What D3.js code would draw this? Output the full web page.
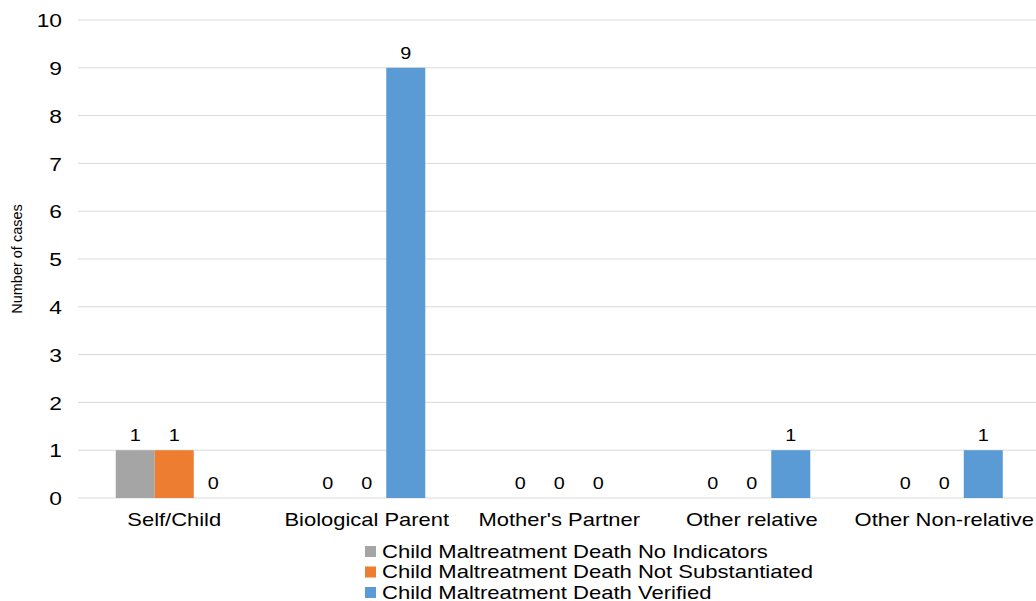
<!DOCTYPE html>
<html><head><meta charset="utf-8">
<script src="https://cdn.jsdelivr.net/npm/d3@7"></script>
<style>body{margin:0;background:#fff}svg{display:block}text{font-family:"Liberation Sans",Arial,sans-serif}</style>
</head><body>
<svg id="c" width="1036" height="601"></svg>
<script>
const categories = ["Self/Child","Biological Parent","Mother's Partner","Other relative","Other Non-relative"];
const seriesNames = ["Child Maltreatment Death No Indicators","Child Maltreatment Death Not Substantiated","Child Maltreatment Death Verified"];
const noIndicators = [1,0,0,0,0];
const notSubstantiated = [1,0,0,0,0];
const verified = [0,9,0,1,1];
const yTicks = [0,1,2,3,4,5,6,7,8,9,10];
const colors = ["#a5a5a5","#ed7d31","#5b9bd5"];
const series = [noIndicators, notSubstantiated, verified];

const svg = d3.select("#c");
const x0 = d3.scaleBand().domain(categories).range([78, 1040.5]).paddingInner(0.392).paddingOuter(0.196);
const x1 = d3.scaleBand().domain(d3.range(3)).range([0, x0.bandwidth()]);
const y = d3.scaleLinear().domain([0,10]).range([498, 20]);

// stretch text horizontally (reference glyphs are wide)
function stretch(sel, sx){
  sel.each(function(){
    const t = d3.select(this);
    const x = +t.attr("x")||0, yy = +t.attr("y")||0;
    t.attr("x",0).attr("y",0).attr("transform",`translate(${x},${yy}) scale(${sx},1)`);
  });
}

// gridlines
svg.append("g").selectAll("line").data(yTicks).join("line")
  .attr("x1",78).attr("x2",1036).attr("y1",d=>y(d)).attr("y2",d=>y(d))
  .attr("stroke","#d9d9d9").attr("stroke-width",1);

// y axis labels
const ya = svg.append("g").attr("transform","translate(78,0)")
  .call(d3.axisLeft(y).tickValues(yTicks).tickSize(0).tickPadding(16));
ya.select(".domain").remove();
ya.selectAll("text").attr("font-size",19).attr("fill","#000").attr("font-family","Liberation Sans, Arial, sans-serif").attr("dy","0.35em");
stretch(ya.selectAll("text"),1.2);

// bars
const groups = svg.append("g").selectAll("g").data(categories).join("g")
  .attr("transform",d=>`translate(${x0(d)},0)`);
groups.selectAll("rect").data((d,i)=>series.map((s,k)=>({k,v:s[i]}))).join("rect")
  .attr("x",d=>x1(d.k)).attr("width",x1.bandwidth())
  .attr("y",d=>y(d.v)).attr("height",d=>y(0)-y(d.v))
  .attr("fill",d=>colors[d.k]);
const vl = groups.selectAll("text").data((d,i)=>series.map((s,k)=>({k,v:s[i]}))).join("text")
  .attr("x",d=>x1(d.k)+x1.bandwidth()/2).attr("y",d=>y(d.v)-9)
  .attr("text-anchor","middle").attr("font-size",16.5).attr("fill","#000")
  .text(d=>d.v);
stretch(vl,1.2);

// x axis labels
const xa = svg.append("g").attr("transform","translate(0,498)")
  .call(d3.axisBottom(x0).tickSize(0).tickPadding(15));
xa.select(".domain").remove();
xa.selectAll("text").attr("font-size",18).attr("fill","#000").attr("font-family","Liberation Sans, Arial, sans-serif").attr("dy","0.71em");
xa.selectAll("text").each(function(){
  const t=d3.select(this); const yy=+t.attr("y");
  t.attr("y",0).attr("dy",null).attr("transform",`translate(0,${yy+13}) scale(1.22,1)`);
});

// y title
svg.append("text").attr("transform","translate(22,259) rotate(-90)")
  .attr("text-anchor","middle").attr("font-size",14.5).attr("fill","#000")
  .text("Number of cases");

// legend
const lg = svg.append("g").selectAll("g").data(seriesNames).join("g")
  .attr("transform",(d,i)=>`translate(365,${551+i*20.5})`);
lg.append("rect").attr("x",0).attr("y",-5).attr("width",11).attr("height",11).attr("fill",(d,i)=>colors[i]);
const lt = lg.append("text").attr("x",17).attr("y",6.5).attr("font-size",17.5).attr("fill","#000").text(d=>d);
stretch(lt,1.26);
</script>
</body></html>
